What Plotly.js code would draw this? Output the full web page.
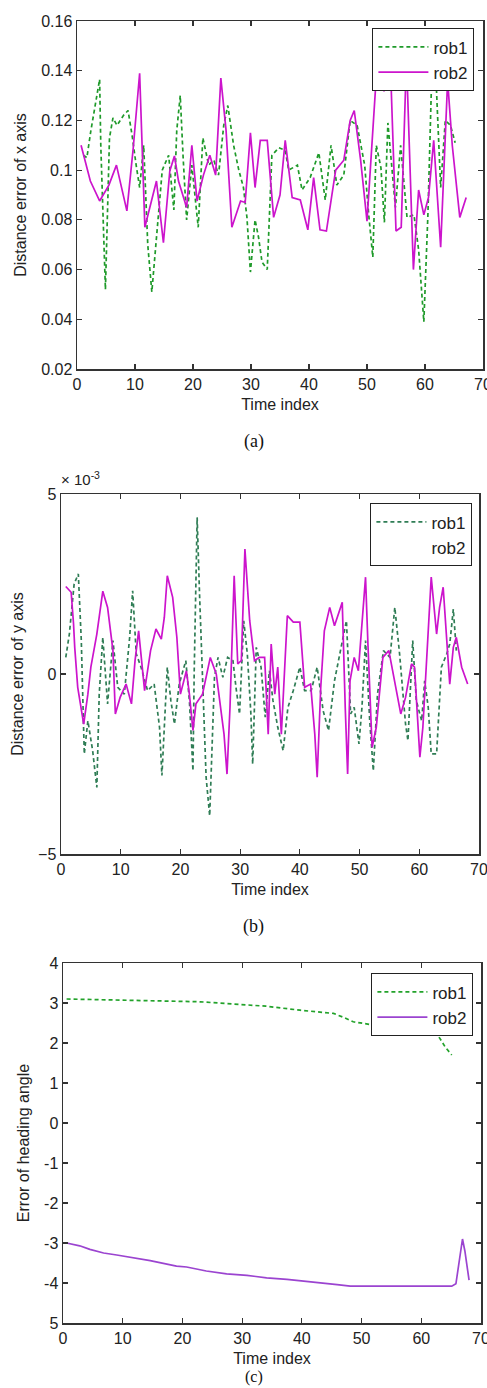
<!DOCTYPE html>
<html>
<head>
<meta charset="utf-8">
<script src="https://cdn.plot.ly/plotly-3.0.1.min.js"></script>
<style>
html,body{margin:0;padding:0;background:#fff;}
#chart{width:487px;height:1388px;}
</style>
</head>
<body>
<div id="chart"></div>
<script>
// ---------- (a) Distance error of x axis ----------
const aRob1T = [1.1,1.7,2.4,3.2,3.9,4.1,4.9,5.6,6.2,6.9,8.0,8.8,9.5,10.2,10.8,11.5,12.2,12.9,13.5,13.8,14.7,15.8,16.7,17.2,17.8,18.3,18.9,19.8,20.9,21.7,22.7,23.6,24.4,25.3,26.0,27.0,27.9,28.7,29.3,29.9,30.7,31.3,31.9,32.8,33.6,34.8,35.9,36.5,38.0,38.8,40.2,41.7,42.8,43.8,44.8,46.0,47.1,48.3,49.6,50.3,51.0,51.6,52.4,53.0,53.6,54.9,55.8,56.9,58.1,58.9,59.8,60.5,61.1,61.8,62.7,63.5,64.4,65.2];
const aRob1V = [0.106,0.105,0.116,0.1265,0.1365,0.110,0.052,0.113,0.121,0.118,0.122,0.124,0.114,0.102,0.093,0.110,0.070,0.051,0.068,0.074,0.100,0.106,0.084,0.116,0.130,0.105,0.080,0.102,0.077,0.113,0.102,0.104,0.098,0.118,0.126,0.110,0.100,0.093,0.081,0.059,0.080,0.073,0.063,0.060,0.106,0.109,0.108,0.100,0.102,0.092,0.097,0.107,0.088,0.110,0.094,0.098,0.120,0.118,0.102,0.082,0.065,0.110,0.101,0.079,0.119,0.085,0.110,0.081,0.082,0.068,0.039,0.082,0.133,0.142,0.093,0.120,0.118,0.111];
const aRob2T = [0.7,2.3,3.9,5.5,6.8,8.6,9.7,10.8,11.7,12.6,13.7,14.9,16.0,16.8,17.5,18.9,19.8,20.7,21.8,22.9,23.9,24.8,25.7,26.7,28.2,29.0,29.9,30.7,31.6,32.8,33.9,35.0,35.9,37.1,38.5,39.8,40.8,41.9,43.0,44.6,46.0,47.1,47.8,48.9,50.0,51.5,52.9,54.0,55.0,55.9,56.8,58.0,58.9,59.8,60.6,61.5,62.7,63.9,64.7,66.0,67.1];
const aRob2V = [0.110,0.0956,0.0876,0.094,0.102,0.0836,0.109,0.139,0.077,0.085,0.0956,0.0708,0.0997,0.1057,0.0956,0.085,0.110,0.0876,0.098,0.106,0.098,0.137,0.116,0.077,0.0876,0.087,0.115,0.093,0.112,0.112,0.081,0.090,0.112,0.089,0.088,0.076,0.097,0.076,0.0755,0.100,0.104,0.120,0.124,0.104,0.0795,0.134,0.132,0.145,0.0755,0.077,0.145,0.060,0.092,0.082,0.089,0.112,0.069,0.136,0.110,0.081,0.089];

// ---------- (b) Distance error of y axis (x 10^-3) ----------
const bRob1T = [0.8,1.4,2.2,2.9,3.4,3.9,4.5,5.3,6.0,6.4,7.0,7.8,8.7,9.5,10.6,11.5,12.0,12.6,13.4,14.5,15.6,16.5,16.9,17.8,18.4,19.0,19.8,20.9,21.5,22.1,22.3,22.8,23.2,23.7,24.3,24.9,25.7,26.3,27.1,27.9,28.8,29.3,29.9,30.6,31.2,31.8,32.1,32.7,33.5,34.2,34.9,35.5,36.3,37.2,38.0,38.9,40.0,40.8,41.9,42.9,43.9,44.8,45.8,46.8,47.8,48.5,49.1,49.9,50.4,51.0,51.7,52.3,53.0,54.0,55.1,55.9,56.7,57.7,58.1,58.9,59.5,60.4,60.9,61.5,62.0,62.9,63.7,64.6,65.1,65.7,66.2];
const bRob1V = [0.46,1.11,2.5,2.78,0.93,-2.22,-1.30,-2.13,-3.15,-0.56,1.02,-0.83,0.93,-0.37,-0.56,1.02,2.31,0.56,0.19,-0.46,-0.28,-1.48,-2.82,0.19,-0.74,-1.39,-0.28,0.37,-0.74,-2.69,0.0,4.35,2.22,-0.19,-2.87,-3.94,-0.09,0.46,-0.09,0.46,0.37,-0.37,-1.11,1.48,0.56,-1.11,-2.5,0.74,0.19,-1.20,0.09,-0.74,-1.48,-2.13,-0.93,-0.46,0.19,-0.46,-0.46,0.19,-1.02,-1.57,-0.19,0.65,1.48,-1.11,-0.93,-1.94,-0.93,0.93,-1.30,-2.69,-0.56,0.65,0.46,1.85,0.56,-1.39,-1.85,0.93,-0.74,-1.30,-0.19,-0.93,-2.22,-2.22,0.19,0.56,0.83,1.80,0.65];
const bRob2T = [0.8,1.7,2.1,2.3,2.8,3.8,4.5,5.0,6.0,7.0,7.8,8.7,9.1,9.9,10.9,11.8,12.4,13.0,14.0,15.0,15.9,16.8,17.3,17.8,18.7,19.4,20.0,21.0,21.5,22.1,22.6,23.7,25.0,26.0,27.3,27.8,28.3,29.0,29.6,30.2,30.8,31.6,32.4,33.2,34.1,34.7,35.2,35.8,36.3,36.9,37.9,38.9,40.0,40.8,41.8,42.5,42.9,43.5,44.1,45.0,45.8,47.1,47.6,48.0,48.4,49.1,49.8,50.4,51.0,51.4,52.1,52.8,53.9,54.9,55.9,56.9,57.7,58.7,59.2,60.1,60.6,61.4,62.0,62.9,63.4,64.0,64.6,65.1,65.7,66.2,67.1,68.1];
const bRob2V = [2.43,2.27,1.39,0.74,-0.37,-1.39,-0.56,0.19,1.11,2.30,1.85,0.65,-1.11,-0.65,-0.28,-0.83,0.37,1.20,-0.46,0.65,1.25,0.97,1.57,2.73,2.13,1.02,-0.56,0.09,-0.56,-1.57,-0.83,-0.56,0.46,0.0,-1.67,-2.78,-0.93,2.73,0.28,0.37,3.47,1.48,0.37,0.46,0.46,-1.67,0.83,-0.56,0.19,-1.67,1.62,1.44,1.44,-0.37,-0.28,-1.67,-2.87,-0.37,1.20,1.85,1.34,1.99,-0.93,-2.78,-0.19,0.46,0.09,1.30,2.69,0.83,-2.04,-1.48,0.46,0.65,-0.19,-1.11,-0.65,0.28,0.19,-2.31,-1.48,1.02,2.69,1.11,1.85,2.41,0.83,-0.28,0.74,1.02,0.19,-0.28];

// ---------- (c) Error of heading angle ----------
const cRob1T = [0.6,5,10,15,20,23,28,34,39.7,45.3,47,48.6,52,56,59.8,62,63.1,64,65.1];
const cRob1V = [3.1,3.09,3.07,3.05,3.04,3.03,2.98,2.92,2.82,2.74,2.64,2.53,2.45,2.35,2.3,2.3,2.12,1.9,1.7];
const cRob2T = [0.6,2.8,4.5,6.8,9.0,11.2,14.6,19,20.7,24,27.4,30.8,34.1,37.5,39.7,43,45.9,48.1,50.9,65.1,65.8,66.4,66.9,67.3,67.6,68];
const cRob2V = [-3.0,-3.07,-3.16,-3.25,-3.3,-3.35,-3.44,-3.58,-3.6,-3.7,-3.77,-3.81,-3.87,-3.91,-3.94,-4.0,-4.04,-4.08,-4.08,-4.08,-4.02,-3.46,-2.9,-3.2,-3.5,-3.93];

const xTickVals = [0,10,20,30,40,50,60,70];
const cTickVals = [-5,-4,-3,-2,-1,0,1,2,3,4];
const cTickText = ['5','-4','-3','-2','-1','0','1','2','3','4'];
const seriesNames = ['rob1','rob2'];
const captions = ['(a)','(b)','(c)'];
const yTitles = ['Distance error of x axis','Distance error of y axis','Error of heading angle'];
const xTitle = 'Time index';

// ---------- layout helpers ----------
const W = 487, H = 1388;
const px = v => v / W;
const py = v => 1 - v / H;
const FONT = 'Liberation Sans, Arial, sans-serif';
const AX = '#333333';

const dashG = '4px,3px';
const colG1 = '#1f9a2a';
const colG2 = '#2f7d55';
const colG3 = '#22a22a';
const colM = '#cc14cc';
const colP = '#9b44d0';

const traces = [
  {x: aRob1T, y: aRob1V, xaxis: 'x', yaxis: 'y', name: seriesNames[0], legend: 'legend', mode: 'lines', line: {color: colG1, width: 1.7, dash: dashG}},
  {x: aRob2T, y: aRob2V, xaxis: 'x', yaxis: 'y', name: seriesNames[1], legend: 'legend', mode: 'lines', line: {color: colM, width: 1.7}},
  {x: bRob1T, y: bRob1V, xaxis: 'x2', yaxis: 'y2', name: seriesNames[0], legend: 'legend2', mode: 'lines', line: {color: colG2, width: 1.7, dash: dashG}},
  {x: bRob2T, y: bRob2V, xaxis: 'x2', yaxis: 'y2', name: seriesNames[1], legend: 'legend2', showlegend: false, mode: 'lines', line: {color: colM, width: 1.7}},
  {x: [null], y: [null], xaxis: 'x2', yaxis: 'y2', name: seriesNames[1], legend: 'legend2', mode: 'lines', line: {color: 'rgba(0,0,0,0)', width: 1.7}},
  {x: cRob1T, y: cRob1V, xaxis: 'x3', yaxis: 'y3', name: seriesNames[0], legend: 'legend3', mode: 'lines', line: {color: colG3, width: 1.7, dash: dashG}},
  {x: cRob2T, y: cRob2V, xaxis: 'x3', yaxis: 'y3', name: seriesNames[1], legend: 'legend3', mode: 'lines', line: {color: colP, width: 1.7}}
];

function xa(dom, anchor) {
  return {
    domain: dom, anchor: anchor, range: [0, 70], tickvals: xTickVals,
    showline: true, linecolor: AX, linewidth: 1.5, mirror: 'ticks',
    ticks: 'inside', ticklen: 5, tickwidth: 1.2, tickcolor: AX,
    showgrid: false, zeroline: false, ticklabeloverflow: 'allow',
    tickfont: {family: FONT, size: 16, color: '#222'},
    title: {text: xTitle, font: {family: FONT, size: 16, color: '#222'}, standoff: 7}
  };
}
function ya(dom, anchor, extra, title) {
  return Object.assign({
    domain: dom, anchor: anchor,
    showline: true, linecolor: AX, linewidth: 1.5, mirror: 'ticks',
    ticks: 'inside', ticklen: 5, tickwidth: 1.2, tickcolor: AX,
    showgrid: false, zeroline: false,
    tickfont: {family: FONT, size: 16, color: '#222'},
    title: {text: title, font: {family: FONT, size: 16, color: '#222'}, standoff: 10}
  }, extra);
}
function leg(right, top) {
  return {
    x: px(right), y: py(top), xanchor: 'right', yanchor: 'top',
    bgcolor: '#ffffff', bordercolor: '#222', borderwidth: 1.4,
    font: {family: FONT, size: 17, color: '#222'}, tracegroupgap: 0, itemwidth: 50
  };
}

const layout = {
  width: W, height: H,
  margin: {l: 0, r: 0, t: 0, b: 0},
  paper_bgcolor: '#fff', plot_bgcolor: '#fff',
  showlegend: true,
  xaxis: xa([px(77), px(483)], 'y'),
  yaxis: ya([py(369), py(21)], 'x', {range: [0.02, 0.16], dtick: 0.02, tick0: 0.02}, yTitles[0]),
  xaxis2: xa([px(61), px(479)], 'y2'),
  yaxis2: ya([py(854), py(494)], 'x2', {range: [-5, 5], dtick: 5, tick0: 0}, yTitles[1]),
  xaxis3: xa([px(63), px(481)], 'y3'),
  yaxis3: ya([py(1323), py(963)], 'x3', {range: [-5, 4], tickvals: cTickVals, ticktext: cTickText}, yTitles[2]),
  legend: leg(474, 28),
  legend2: leg(472, 503),
  legend3: leg(473, 973),
  annotations: [
    {xref: 'paper', yref: 'paper', x: px(254), y: py(442), xanchor: 'center', yanchor: 'middle', showarrow: false,
     text: captions[0], font: {family: 'Liberation Serif, Times New Roman, serif', size: 18, color: '#111'}},
    {xref: 'paper', yref: 'paper', x: px(254), y: py(926), xanchor: 'center', yanchor: 'middle', showarrow: false,
     text: captions[1], font: {family: 'Liberation Serif, Times New Roman, serif', size: 18, color: '#111'}},
    {xref: 'paper', yref: 'paper', x: px(254), y: 0, xanchor: 'center', yanchor: 'bottom', showarrow: false,
     text: captions[2], font: {family: 'Liberation Serif, Times New Roman, serif', size: 16, color: '#111'}},
    {xref: 'paper', yref: 'paper', x: px(59), y: py(490), xanchor: 'left', yanchor: 'bottom', showarrow: false,
     text: '× 10<sup>-3</sup>', font: {family: FONT, size: 15, color: '#222'}}
  ]
};

Plotly.newPlot('chart', traces, layout, {staticPlot: true, displayModeBar: false});
</script>
</body>
</html>
